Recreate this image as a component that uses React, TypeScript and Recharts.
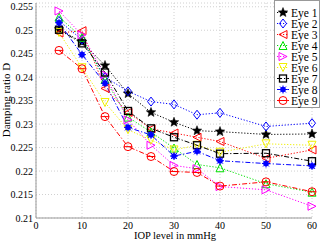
import { LineChart, Line, XAxis, YAxis, CartesianGrid } from 'recharts'

const iop = [5, 10, 15, 20, 25, 30, 35, 40, 50, 60]

const eye1 = [0.2502, 0.2475, 0.2425, 0.2365, 0.2325, 0.2304, 0.2286, 0.2284, 0.2278, 0.2279]
const eye2 = [0.252, 0.248, 0.24, 0.237, 0.2348, 0.2342, 0.232, 0.2324, 0.2295, 0.2302]
const eye3 = [0.2494, 0.2499, 0.2376, 0.2325, 0.229, 0.2281, 0.2272, 0.2263, 0.2227, 0.2245]
const eye4 = [0.2528, 0.2485, 0.2395, 0.2315, 0.2283, 0.2249, 0.2214, 0.2207, 0.2173, 0.2155]
const eye5 = [0.2541, 0.249, 0.2405, 0.2309, 0.2255, 0.2212, 0.2205, 0.2167, 0.216, 0.2125]
const eye6 = [0.2495, 0.242, 0.2346, 0.2288, 0.2266, 0.2245, 0.2255, 0.224, 0.2258, 0.2255]
const eye7 = [0.2501, 0.2472, 0.241, 0.2328, 0.2291, 0.2272, 0.2255, 0.2237, 0.2238, 0.2221]
const eye8 = [0.2516, 0.2448, 0.2387, 0.2293, 0.2277, 0.2232, 0.2242, 0.2222, 0.2216, 0.2211]
const eye9 = [0.2457, 0.2418, 0.2316, 0.2252, 0.2231, 0.2199, 0.2197, 0.2168, 0.2177, 0.2156]

const xTicks = [0, 10, 20, 30, 40, 50, 60]
const yTicks = [0.21, 0.215, 0.22, 0.225, 0.23, 0.235, 0.24, 0.245, 0.25, 0.255]

const DOT = '1.2 1.8'
const DASHDOT = '5 2 1.2 2'
const SERIF = 'Liberation Serif'

const series = [
  { key: 'eye1', name: 'Eye 1', values: eye1, color: '#000000', dash: DOT, shape: 'star' },
  { key: 'eye2', name: 'Eye 2', values: eye2, color: '#0000ff', dash: DOT, shape: 'diamond' },
  { key: 'eye3', name: 'Eye 3', values: eye3, color: '#ff0000', dash: DOT, shape: 'triLeft' },
  { key: 'eye4', name: 'Eye 4', values: eye4, color: '#00e000', dash: DOT, shape: 'triUp' },
  { key: 'eye5', name: 'Eye 5', values: eye5, color: '#ff00ff', dash: DOT, shape: 'triRight' },
  { key: 'eye6', name: 'Eye 6', values: eye6, color: '#f0f000', dash: DOT, shape: 'triDown' },
  { key: 'eye7', name: 'Eye 7', values: eye7, color: '#000000', dash: DASHDOT, shape: 'square' },
  { key: 'eye8', name: 'Eye 8', values: eye8, color: '#0000ff', dash: DASHDOT, shape: 'asterisk' },
  { key: 'eye9', name: 'Eye 9', values: eye9, color: '#ff0000', dash: DASHDOT, shape: 'circleMinus' },
]

const rows = iop.map((x, i) => {
  const row: Record<string, number> = { iop: x }
  series.forEach((s) => {
    row[s.key] = s.values[i]
  })
  return row
})

function Marker({ cx, cy, shape, color }: { cx: number; cy: number; shape: string; color: string }) {
  const r = 4
  const sw = 1
  switch (shape) {
    case 'star': {
      const pts: string[] = []
      for (let i = 0; i < 10; i++) {
        const rad = i % 2 === 0 ? 5 : 2.2
        const a = -Math.PI / 2 + (i * Math.PI) / 5
        pts.push(`${cx + rad * Math.cos(a)},${cy + rad * Math.sin(a)}`)
      }
      return <polygon points={pts.join(' ')} fill={color} stroke={color} strokeWidth={0.5} />
    }
    case 'diamond':
      return (
        <polygon
          points={`${cx},${cy - 4.5} ${cx + 3.5},${cy} ${cx},${cy + 4.5} ${cx - 3.5},${cy}`}
          fill="none"
          stroke={color}
          strokeWidth={sw}
        />
      )
    case 'triLeft':
      return <polygon points={`${cx - r},${cy} ${cx + r},${cy - r} ${cx + r},${cy + r}`} fill="none" stroke={color} strokeWidth={sw} />
    case 'triRight':
      return <polygon points={`${cx + r},${cy} ${cx - r},${cy - r} ${cx - r},${cy + r}`} fill="none" stroke={color} strokeWidth={sw} />
    case 'triUp':
      return <polygon points={`${cx},${cy - r} ${cx - r},${cy + r} ${cx + r},${cy + r}`} fill="none" stroke={color} strokeWidth={sw} />
    case 'triDown':
      return <polygon points={`${cx},${cy + r} ${cx - r},${cy - r} ${cx + r},${cy - r}`} fill="none" stroke={color} strokeWidth={sw} />
    case 'square':
      return <rect x={cx - 3.5} y={cy - 3.5} width={7} height={7} fill="none" stroke={color} strokeWidth={1.3} />
    case 'asterisk':
      return (
        <g>
          <circle cx={cx} cy={cy} r={2.8} fill={color} />
          <path
            d={`M${cx - 4},${cy} L${cx + 4},${cy} M${cx},${cy - 4} L${cx},${cy + 4} M${cx - 3},${cy - 3} L${cx + 3},${cy + 3} M${cx - 3},${cy + 3} L${cx + 3},${cy - 3}`}
            stroke={color}
            strokeWidth={1}
          />
        </g>
      )
    case 'circleMinus':
      return (
        <g>
          <circle cx={cx} cy={cy} r={4} fill="none" stroke={color} strokeWidth={sw} />
          <line x1={cx - 4} y1={cy} x2={cx + 4} y2={cy} stroke={color} strokeWidth={sw} />
        </g>
      )
    default:
      return null
  }
}

function LegendBox() {
  return (
    <svg width={46} height={108} style={{ display: 'block' }}>
      <rect x={0.5} y={0.5} width={45} height={107} fill="#ffffff" stroke="#999999" />
      {series.map((s, i) => {
        const y = 12.5 + i * 11
        return (
          <g key={s.key}>
            <line x1={3} y1={y} x2={15} y2={y} stroke={s.color} strokeWidth={1} strokeDasharray={s.dash} />
            <Marker cx={9} cy={y} shape={s.shape} color={s.color} />
            <text x={17} y={y + 4} fontSize={11.5} fontFamily={SERIF} fill="#000">
              {s.name}
            </text>
          </g>
        )
      })}
    </svg>
  )
}

function XTick(props: any) {
  const { x, payload } = props
  return (
    <text x={x} y={228.5} textAnchor="middle" fontSize={10} fontFamily={SERIF} fill="#000">
      {payload.value}
    </text>
  )
}

function YTick(props: any) {
  const { y, payload } = props
  return (
    <text x={33} y={y + 3.5} textAnchor="end" fontSize={10} fontFamily={SERIF} fill="#000">
      {String(+Number(payload.value).toFixed(3))}
    </text>
  )
}

export default function App() {
  return (
    <div style={{ position: 'fixed', left: 0, top: 0, width: 320, height: 241, background: '#fff' }}>
      <LineChart width={320} height={241} data={rows} margin={{ top: 3, right: 8, left: 0, bottom: 0 }}>
        <CartesianGrid stroke="#d0d0d0" strokeDasharray="1 2" />
        <XAxis
          dataKey="iop"
          type="number"
          domain={[0, 60]}
          ticks={xTicks}
          interval={0}
          height={23}
          tickLine={false}
          axisLine={{ stroke: '#999' }}
          tick={<XTick />}
        />
        <XAxis xAxisId="top" orientation="top" dataKey="iop" type="number" domain={[0, 60]} height={0} tick={false} tickLine={false} axisLine={{ stroke: '#999' }} />
        <YAxis
          type="number"
          domain={[0.21, 0.2558]}
          ticks={yTicks}
          interval={0}
          width={36}
          tickLine={false}
          axisLine={{ stroke: '#999' }}
          tick={<YTick />}
        />
        <YAxis yAxisId="right" orientation="right" domain={[0.21, 0.2558]} width={0} tick={false} tickLine={false} axisLine={{ stroke: '#999' }} />
        {series.map((s) => (
          <Line
            key={s.key}
            dataKey={s.key}
            name={s.name}
            stroke={s.color}
            strokeWidth={1}
            strokeDasharray={s.dash}
            isAnimationActive={false}
            dot={(p: any) => <Marker key={`${s.key}-${p.index}`} cx={p.cx} cy={p.cy} shape={s.shape} color={s.color} />}
            activeDot={false}
          />
        ))}
      </LineChart>
      <svg width={320} height={241} style={{ position: 'absolute', left: 0, top: 0, pointerEvents: 'none' }}>
        <text x={175} y={239} textAnchor="middle" fontSize={10.5} fontFamily={SERIF} fill="#000">
          IOP level in mmHg
        </text>
        <text
          x={6}
          y={100}
          transform="rotate(-90 6 100)"
          textAnchor="middle"
          dominantBaseline="central"
          fontSize={11}
          fontFamily={SERIF}
          fill="#000"
        >
          Damping ratio D
        </text>
      </svg>
      <div style={{ position: 'absolute', left: 274, top: 0 }}>
        <LegendBox />
      </div>
    </div>
  )
}
